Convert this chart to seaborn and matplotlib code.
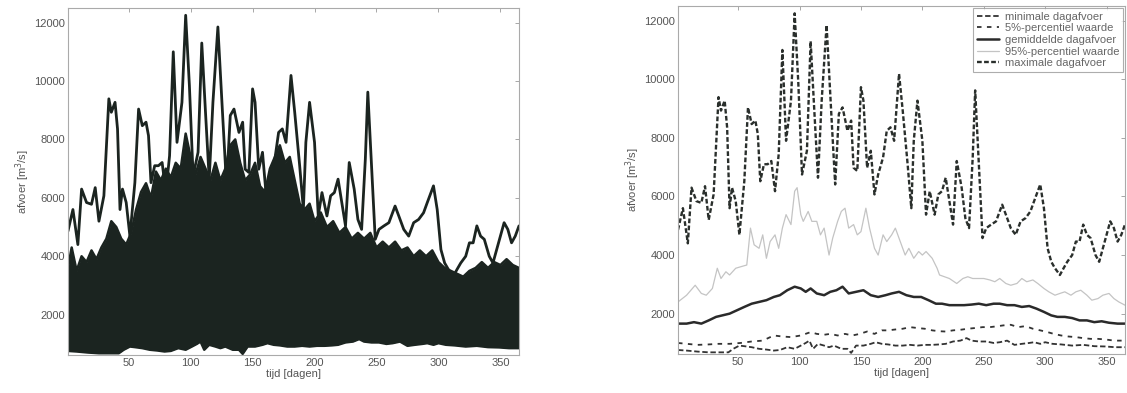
import matplotlib
matplotlib.use("Agg")
import matplotlib.pyplot as plt
import seaborn as sns
import numpy as np

sns.set_theme(style="white")
plt.rcParams['font.family'] = ['Liberation Sans', 'DejaVu Sans']

# maximale dagafvoer
max_days = [1, 5, 9, 12, 16, 20, 23, 26, 30, 34, 36, 39, 41, 43, 45, 48, 51, 55, 58, 61,
            64, 66, 68, 71, 74, 77, 80, 83, 86, 89, 93, 96, 99, 102, 106, 109, 112, 115,
            118, 122, 126, 129, 132, 135, 139, 142, 144, 147, 150, 152, 155, 158, 161, 164,
            168, 171, 174, 177, 181, 184, 188, 191, 193, 196, 200, 203, 206, 210, 213, 216,
            219, 222, 225, 228, 232, 235, 238, 241, 243, 246, 249, 252, 256, 260, 265, 268,
            272, 276, 280, 284, 288, 291, 296, 299, 302, 305, 308, 312, 315, 318, 322, 325,
            328, 331, 334, 337, 341, 344, 347, 350, 353, 356, 359, 362, 365]
max_vals = [4860, 5600, 4400, 6300, 5840, 5780, 6350, 5200, 6070, 9390, 8930, 9270, 8360,
            5600, 6300, 5840, 4690, 6520, 9040, 8470, 8590, 8130, 6520, 7100, 7100, 7210,
            6180, 7440, 11000, 7900, 9270, 12250, 9850, 6750, 7560, 11300, 8930, 6640, 9270,
            11850, 8700, 6410, 8820, 9040, 8240, 8590, 6980, 6870, 9730, 9270, 6980, 7560,
            6070, 6750, 7330, 8240, 8360, 7900, 10190, 8930, 7100, 5600, 7900, 9270, 7900,
            5380, 6180, 5380, 6070, 6180, 6640, 5840, 5040, 7210, 6300, 5260, 4920, 7330,
            9620, 7100, 4580, 4920, 5040, 5150, 5720, 5380, 4920, 4690, 5150, 5260, 5490,
            5840, 6410, 5600, 4230, 3770, 3550, 3320, 3550, 3770, 4000, 4460, 4460, 5040,
            4690, 4580, 4000, 3770, 4230, 4690, 5150, 4920, 4460, 4690, 5040]

# 95%-percentiel waarde
p95_days = [1, 8, 15, 20, 24, 29, 33, 36, 40, 43, 48, 52, 57, 60, 63, 67, 70, 73, 76, 80,
            83, 86, 89, 93, 96, 98, 101, 103, 107, 110, 114, 117, 120, 124, 127, 131, 134,
            137, 140, 144, 147, 150, 154, 157, 161, 164, 168, 171, 175, 178, 182, 186, 189,
            193, 197, 200, 203, 208, 212, 214, 218, 222, 228, 233, 237, 241, 246, 250, 255,
            259, 263, 268, 272, 277, 281, 285, 290, 294, 299, 303, 308, 312, 316, 321, 325,
            329, 334, 338, 343, 347, 352, 356, 360, 365]
p95_vals = [2400, 2630, 2970, 2690, 2630, 2860, 3550, 3200, 3430, 3320, 3550, 3600, 3660,
            4920, 4350, 4230, 4690, 3890, 4460, 4690, 4230, 4920, 5380, 5040, 6180, 6300,
            5380, 5150, 5490, 5150, 5150, 4690, 4920, 4000, 4580, 5150, 5490, 5600, 4920,
            5040, 4690, 4800, 5600, 4920, 4230, 4000, 4690, 4460, 4690, 4920, 4460, 4000,
            4230, 3890, 4120, 4000, 4120, 3890, 3550, 3320, 3260, 3200, 3030, 3200, 3260,
            3200, 3200, 3200, 3150, 3090, 3200, 3030, 2970, 3030, 3200, 3090, 3150, 3030,
            2860, 2745, 2630, 2690, 2745, 2630, 2745, 2800, 2630, 2460, 2515, 2630, 2690,
            2515, 2400, 2290]

# gemiddelde dagafvoer
mean_days = [1, 8, 14, 20, 26, 32, 37, 43, 49, 55, 61, 67, 73, 79, 84, 90, 96, 101, 105,
             109, 114, 120, 125, 130, 135, 140, 146, 152, 158, 164, 170, 175, 181, 187, 193,
             199, 205, 211, 216, 222, 228, 234, 240, 246, 252, 258, 263, 269, 275, 281, 287,
             293, 299, 305, 310, 316, 322, 328, 334, 340, 346, 352, 359, 365]
mean_vals = [1660, 1660, 1710, 1660, 1770, 1890, 1940, 2000, 2115, 2230, 2340, 2400, 2460,
             2570, 2630, 2800, 2920, 2860, 2745, 2860, 2690, 2630, 2745, 2800, 2920, 2690,
             2745, 2800, 2630, 2570, 2630, 2690, 2745, 2630, 2570, 2570, 2460, 2340, 2340,
             2290, 2290, 2290, 2310, 2340, 2290, 2340, 2340, 2290, 2290, 2230, 2260, 2170,
             2060, 1940, 1890, 1890, 1850, 1770, 1770, 1710, 1740, 1690, 1660, 1660]

# 5%-percentiel waarde
p5_days = [1, 8, 17, 26, 34, 43, 52, 61, 70, 79, 86, 93, 101, 109, 114, 120, 125, 131,
           137, 143, 149, 155, 161, 167, 172, 178, 184, 190, 196, 202, 208, 214, 219, 225,
           231, 237, 243, 249, 255, 260, 266, 272, 278, 284, 290, 296, 302, 307, 313, 319,
           325, 331, 337, 343, 349, 356, 365]
p5_vals = [1000, 970, 935, 950, 970, 970, 1000, 1050, 1080, 1255, 1220, 1200, 1255, 1370,
           1310, 1280, 1310, 1255, 1310, 1255, 1310, 1390, 1310, 1430, 1430, 1460, 1485,
           1540, 1510, 1485, 1430, 1400, 1390, 1430, 1450, 1485, 1510, 1540, 1540, 1565,
           1600, 1620, 1540, 1575, 1485, 1430, 1370, 1310, 1255, 1220, 1200, 1165, 1140,
           1140, 1120, 1080, 1080]

# minimale dagafvoer
min_days = [1, 8, 17, 26, 34, 42, 46, 51, 55, 61, 67, 73, 79, 84, 90, 96, 101, 105, 108,
            111, 115, 120, 124, 128, 134, 139, 142, 146, 152, 158, 162, 167, 172, 178, 184,
            190, 196, 202, 208, 214, 219, 225, 231, 236, 240, 246, 252, 258, 263, 269, 275,
            281, 287, 291, 296, 300, 306, 313, 322, 331, 340, 349, 357, 365]
min_vals = [760, 740, 705, 680, 680, 680, 800, 910, 890, 855, 800, 775, 740, 760, 855, 800,
            910, 1000, 1080, 800, 970, 910, 855, 910, 800, 800, 660, 910, 910, 970, 1025,
            970, 950, 910, 910, 935, 910, 935, 935, 950, 970, 1050, 1080, 1165, 1080, 1050,
            1050, 1000, 1025, 1080, 935, 970, 1000, 1025, 970, 1025, 970, 950, 910, 935,
            890, 880, 855, 855]

# upper edge of the solid dark mass of traces in the left panel
dense_days = [1, 4, 8, 12, 16, 20, 24, 28, 32, 36, 40, 44, 48, 52, 56, 60, 64, 68, 72, 76,
              80, 84, 88, 92, 96, 100, 104, 108, 112, 116, 120, 124, 128, 132, 136, 140,
              144, 148, 152, 156, 160, 164, 168, 172, 176, 180, 184, 188, 192, 196, 200,
              205, 210, 215, 220, 225, 230, 235, 240, 245, 250, 255, 260, 265, 270, 275,
              280, 285, 290, 295, 300, 305, 310, 315, 320, 325, 330, 335, 340, 345, 350,
              355, 360, 365]
dense_vals = [3600, 4300, 3500, 4000, 3800, 4200, 3900, 4300, 4600, 5200, 5000, 4600, 4400,
              4800, 5600, 6200, 6500, 6000, 6900, 6600, 7000, 6700, 7200, 7000, 8200, 7400,
              6800, 7400, 7000, 6600, 7200, 6600, 7000, 7800, 8000, 7200, 6600, 6800, 7200,
              6400, 6200, 7000, 7400, 7800, 7200, 7400, 6600, 5800, 5600, 5800, 5200, 5500,
              5000, 5200, 4800, 5000, 4600, 4800, 4600, 4800, 4300, 4500, 4300, 4500, 4200,
              4300, 4000, 4200, 4000, 4200, 3800, 3600, 3500, 3400, 3300, 3500, 3600, 3800,
              3600, 3800, 3700, 3900, 3700, 3600]

labels = ["minimale dagafvoer", "5%-percentiel waarde", "gemiddelde dagafvoer",
          "95%-percentiel waarde", "maximale dagafvoer"]

txt = '#555555'
fig = plt.figure(figsize=(11.27, 3.93), dpi=100)
ax1 = fig.add_axes([0.0603, 0.0967, 0.4002, 0.883])
ax2 = fig.add_axes([0.6016, 0.099, 0.3966, 0.8857])

# left panel: all traces
dark = '#1b2420'
grid = np.arange(1, 366)
lo = np.interp(grid, min_days, min_vals)
hi = np.interp(grid, dense_days, dense_vals)
ax1.fill_between(grid, lo, hi, color=dark, lw=0)
sns.lineplot(x=dense_days, y=dense_vals, ax=ax1, color=dark, lw=1.8)
sns.lineplot(x=max_days, y=max_vals, ax=ax1, color=dark, lw=2.0)
sns.lineplot(x=min_days, y=min_vals, ax=ax1, color=dark, lw=1.8)

# right panel: statistics
sns.lineplot(x=min_days, y=min_vals, ax=ax2, color='#333333', lw=1.3,
             dashes=(3, 1.5), label=labels[0])
sns.lineplot(x=p5_days, y=p5_vals, ax=ax2, color='#333333', lw=1.3,
             dashes=(2.5, 3), label=labels[1])
sns.lineplot(x=mean_days, y=mean_vals, ax=ax2, color='#2a2a2a', lw=1.8, label=labels[2])
sns.lineplot(x=p95_days, y=p95_vals, ax=ax2, color='#c4c4c4', lw=0.9, label=labels[3])
sns.lineplot(x=max_days, y=max_vals, ax=ax2, color='#2a2f2c', lw=1.7,
             dashes=(2, 1), label=labels[4])

for ax in (ax1, ax2):
    ax.set_xlim(1, 365)
    ax.set_ylim(620, 12500)
    ax.set_xticks(range(50, 351, 50))
    ax.set_yticks(range(2000, 12001, 2000))
    ax.tick_params(direction='in', top=True, right=True, length=3, width=0.6,
                   color='#999999', labelcolor=txt, labelsize=8, pad=2)
    ax.set_xlabel("tijd [dagen]", color=txt, fontsize=8, labelpad=1)
    ax.set_ylabel("afvoer [m$^3$/s]", color=txt, fontsize=8, labelpad=2)
    for s in ax.spines.values():
        s.set_color('#aaaaaa')
        s.set_linewidth(0.8)

leg = ax2.legend(loc='upper right', fontsize=8, frameon=True, fancybox=False,
                 edgecolor='#999999', borderpad=0.35, labelspacing=0.15,
                 handlelength=2.0, handletextpad=0.5, borderaxespad=0.15)
leg.get_frame().set_linewidth(0.8)
for t in leg.get_texts():
    t.set_color('#666666')

fig.savefig("out.png", dpi=100)
